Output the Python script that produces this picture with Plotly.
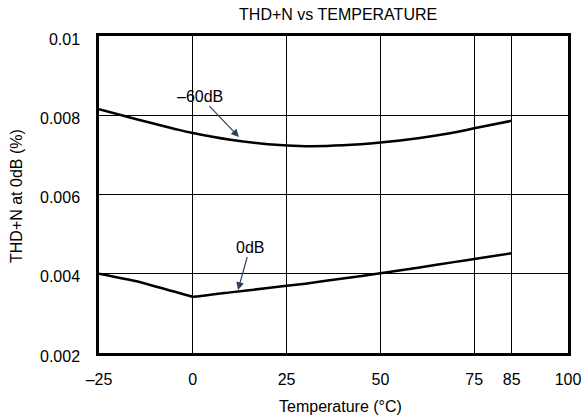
import plotly.graph_objects as go

temp = [-25, -15, -5, 0, 10, 20, 30, 40, 50, 60, 70, 75, 85]
thd_m60 = [0.00815, 0.00790, 0.00766, 0.00755, 0.00738, 0.00727, 0.00722, 0.00724, 0.00731, 0.00742, 0.00757, 0.00767, 0.00786]
thd_0 = [0.00400, 0.00381, 0.00355, 0.00342, 0.00353, 0.00364, 0.00375, 0.00388, 0.00401, 0.00415, 0.00430, 0.00437, 0.00452]

x_ticks = [-25, 0, 25, 50, 75, 85, 100]
x_ticktext = ["–25", "0", "25", "50", "75", "85", "100"]
y_ticks = [0.002, 0.004, 0.006, 0.008, 0.01]
y_ticktext = ["0.002", "0.004", "0.006", "0.008", "0.01"]

font = "Liberation Sans, Arial, sans-serif"
fs = 16

fig = go.Figure()
fig.add_trace(go.Scatter(x=temp, y=thd_m60, mode="lines", line=dict(color="black", width=2.5, shape="spline"), showlegend=False))
fig.add_trace(go.Scatter(x=temp, y=thd_0, mode="lines", line=dict(color="black", width=2.5, shape="spline", smoothing=0.3), showlegend=False))

fig.add_annotation(x=12.3, y=0.00745, text="–60dB", showarrow=True, arrowhead=2, arrowsize=1.3, arrowwidth=1.2,
                   ax=-39, ay=-41, font=dict(size=fs, color="black", family=font))
fig.add_annotation(x=12.05, y=0.00359, text="0dB", showarrow=True, arrowhead=2, arrowsize=1.3, arrowwidth=1.2,
                   ax=12, ay=-43, font=dict(size=fs, color="black", family=font))

# axis titles
fig.add_annotation(x=(340 - 99) / 469, y=(353 - 406) / 317, xref="paper", yref="paper", text="Temperature (°C)",
                   showarrow=False, xanchor="center", yanchor="middle", font=dict(size=fs, color="black", family=font))
fig.add_annotation(x=(16 - 99) / 469, y=(353 - 196) / 317, xref="paper", yref="paper", text="THD+N at 0dB (%)",
                   textangle=-90, showarrow=False, xanchor="center", yanchor="middle",
                   font=dict(size=fs, color="black", family=font))

fig.update_layout(
    width=586, height=420,
    margin=dict(l=99, r=18, t=36, b=67),
    paper_bgcolor="white", plot_bgcolor="white",
    font=dict(family=font, size=fs, color="black"),
    title=dict(text="THD+N vs TEMPERATURE", x=0.577, xanchor="center", y=0.966, yanchor="middle",
               font=dict(size=fs, color="black", family=font)),
    xaxis=dict(range=[-25, 100], tickvals=x_ticks, ticktext=x_ticktext, showgrid=True, gridcolor="black", gridwidth=1,
               zeroline=False, showline=True, linecolor="black", linewidth=2.5, mirror=True, ticks="",
               ticklabelstandoff=10, automargin=False),
    yaxis=dict(range=[0.002, 0.01], tickvals=y_ticks, ticktext=y_ticktext, showgrid=True, gridcolor="black", gridwidth=1,
               zeroline=False, showline=True, linecolor="black", linewidth=2.5, mirror=True, ticks="",
               ticklabelstandoff=13, ticklabelshift=3, automargin=False),
)

fig.write_html("out.html")
